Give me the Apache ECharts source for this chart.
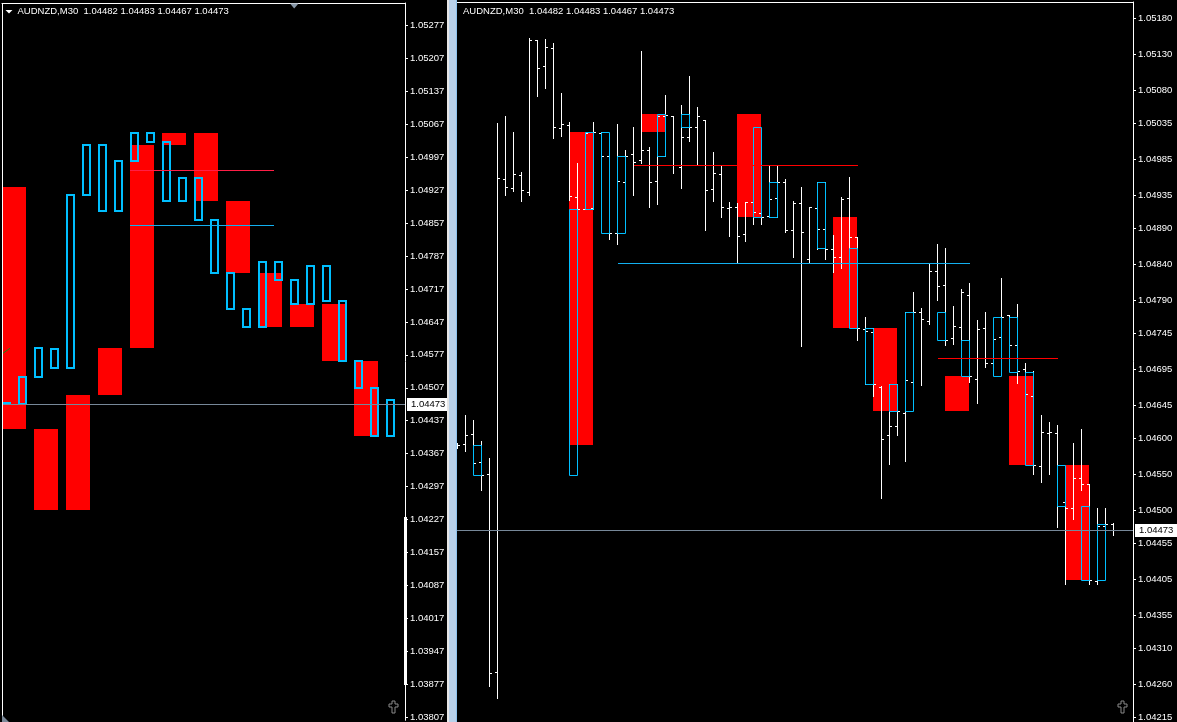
<!DOCTYPE html>
<html><head><meta charset="utf-8">
<script src="https://cdn.jsdelivr.net/npm/echarts@6/dist/echarts.min.js"></script>
<style>html,body{margin:0;padding:0;background:#000;overflow:hidden}#c{width:1177px;height:722px}</style>
</head><body><div id="c"></div><script>
// ---------------- DATA ----------------
const symbolName = 'AUDNZD,M30';
const lastQuote = [1.04482, 1.04483, 1.04467, 1.04473];
const currentPrice = 1.04473;

const leftTickValues = [1.05277, 1.05207, 1.05137, 1.05067, 1.04997, 1.04927, 1.04857, 1.04787, 1.04717, 1.04647, 1.04577, 1.04507, 1.04437, 1.04367, 1.04297, 1.04227, 1.04157, 1.04087, 1.04017, 1.03947, 1.03877, 1.03807];
const rightTickValues = [1.05180, 1.05130, 1.05080, 1.05035, 1.04985, 1.04935, 1.04890, 1.04840, 1.04790, 1.04745, 1.04695, 1.04645, 1.04600, 1.04550, 1.04500, 1.04455, 1.04405, 1.04355, 1.04310, 1.04260, 1.04215];

// right panel OHLC bars (index 0..82)
const barOpen = [1.04588,1.04592,1.04606,1.04567,1.04550,1.04277,1.04958,1.04945,1.04963,1.04940,
1.05150,1.05114,1.05139,1.05028,1.05032,1.04933,1.04916,1.04918,1.05021,1.04990,
1.04883,1.04954,1.04992,1.04984,1.04998,1.04955,1.05045,1.05045,1.04975,1.05016,
1.05030,1.05039,1.04944,1.04965,1.04918,1.04920,1.04882,1.04926,1.04911,1.04907,
1.04932,1.04954,1.04887,1.04925,1.04847,1.04918,1.04889,1.04862,1.04851,1.04932,
1.04878,1.04751,1.04747,1.04671,1.04604,1.04617,1.04635,1.04677,1.04775,1.04762,
1.04831,1.04811,1.04738,1.04753,1.04798,1.04682,1.04752,1.04704,1.04740,1.04770,
1.04729,1.04695,1.04658,1.04562,1.04607,1.04607,1.04512,1.04504,1.04545,1.04537,
1.04403,1.04479,1.04482];
const barHigh = [1.04593,1.04632,1.04625,1.04596,1.04573,1.05035,1.05045,1.05023,1.04968,1.05153,
1.05150,1.05151,1.05146,1.05077,1.05037,1.04980,1.05021,1.05037,1.05023,1.04990,
1.05034,1.04998,1.05030,1.05135,1.05002,1.05047,1.05074,1.05045,1.05060,1.05100,
1.05057,1.05039,1.04995,1.04976,1.04926,1.04925,1.04926,1.04929,1.04922,1.04977,
1.04976,1.04958,1.04927,1.04947,1.04920,1.04954,1.04954,1.04881,1.04933,1.04961,
1.04878,1.04768,1.04752,1.04672,1.04675,1.04675,1.04775,1.04802,1.04780,1.04840,
1.04868,1.04863,1.04783,1.04806,1.04815,1.04763,1.04775,1.04766,1.04821,1.04770,
1.04786,1.04704,1.04693,1.04632,1.04622,1.04618,1.04515,1.04593,1.04613,1.04537,
1.04504,1.04504,1.04483];
const barLow = [1.04586,1.04582,1.04556,1.04529,1.04258,1.04241,1.04936,1.04942,1.04928,1.04936,
1.05073,1.05084,1.05015,1.05017,1.04929,1.04916,1.04916,1.04916,1.04990,1.04875,
1.04868,1.04950,1.04936,1.04980,1.04920,1.04924,1.04990,1.04967,1.04946,1.05011,
1.04979,1.04888,1.04927,1.04905,1.04880,1.04844,1.04873,1.04896,1.04896,1.04905,
1.04905,1.04885,1.04851,1.04727,1.04843,1.04862,1.04848,1.04830,1.04835,1.04860,
1.04735,1.04675,1.04658,1.04517,1.04565,1.04605,1.04569,1.04667,1.04674,1.04758,
1.04791,1.04729,1.04730,1.04736,1.04678,1.04649,1.04698,1.04688,1.04694,1.04693,
1.04676,1.04661,1.04550,1.04540,1.04550,1.04478,1.04398,1.04489,1.04529,1.04398,
1.04399,1.04460,1.04467];
const barClose = [1.04590,1.04604,1.04566,1.04549,1.04276,1.04959,1.04947,1.04965,1.04943,1.05150,
1.05112,1.05141,1.05030,1.05034,1.04934,1.04916,1.05021,1.05023,1.04990,1.04883,
1.04955,1.04990,1.04981,1.04998,1.04954,1.05045,1.05047,1.04977,1.05016,1.05030,
1.05045,1.04943,1.04967,1.04919,1.04919,1.04880,1.04926,1.04912,1.04905,1.04930,
1.04954,1.04887,1.04925,1.04885,1.04920,1.04889,1.04862,1.04851,1.04930,1.04878,
1.04752,1.04748,1.04675,1.04599,1.04617,1.04637,1.04680,1.04775,1.04764,1.04831,
1.04810,1.04735,1.04755,1.04802,1.04686,1.04751,1.04704,1.04737,1.04767,1.04729,
1.04693,1.04661,1.04563,1.04608,1.04608,1.04506,1.04504,1.04545,1.04537,1.04404,
1.04479,1.04481,1.04473];

// hollow (blue) boxes, shared by both panels
const boxTop = [1.04474,1.04529,1.04591,1.04590,1.04916,1.05023,1.05023,1.04990,1.05048,1.05048,
1.05030,1.04954,1.04954,1.04863,1.04752,1.04675,1.04775,1.04775,1.04736,1.04767,
1.04767,1.04692,1.04563,1.04506,1.04481];
const boxBottom = [1.04472,1.04472,1.04529,1.04549,1.04549,1.04916,1.04883,1.04883,1.04990,1.05030,
1.04905,1.04905,1.04863,1.04752,1.04675,1.04637,1.04637,1.04736,1.04686,1.04686,
1.04692,1.04563,1.04506,1.04404,1.04404];
const boxSlotLeft = [0,1,2,3,4,5,6,7,8,9,10,11,12,13,14,15,16,17,18,19,20,21,22,23,24];
const boxBarRight = [null,null,null,2,14,16,18,20,25,28,37,39,45,49,51,54,56,60,63,67,69,71,75,78,80];

// filled (red) boxes, shared by both panels
const redTop = [1.04933,1.04419,1.04491,1.04591,1.05023,1.05048,1.05048,1.04905,1.04752,1.04686,1.04686,1.04563];
const redBottom = [1.04419,1.04248,1.04248,1.04491,1.04591,1.05023,1.04905,1.04752,1.04637,1.04637,1.04563,1.04404];
const redSlotLeft = [0,2,4,6,8,10,12,14,16,18,20,22];
const redBarRight = [null,null,null,null,14,23,35,47,52,61,69,76];

// horizontal level lines
const leftLevelFrom = [8, 8];
const leftLevelTo = [17, 17];
const leftLevelPrice = [1.04970, 1.04854];
const rightLevelFrom = [22, 20, 60];
const rightLevelTo = [50, 64, 75];
const rightLevelPrice = [1.04978, 1.04842, 1.04711];
// short green indicator stub at left edge
const greenStubX = [0, 0.5];
const greenStubY = [1.04579, 1.04591];

// ---------------- STYLE / LAYOUT ----------------
const FONT = '"Liberation Sans", Arial, sans-serif';
const LX = [0, 403 / 16];                 // left x extent (slot units, 16px)
const RX = [-0.0625, -0.0625 + 676 / 8];  // right x extent (bar units, 8px)
const LY = [1.03800, 1.0532515];
const RY = [1.042085, 1.052025];
const leftLevelColors = ['#ff1e46', '#12b0f0'];
const rightLevelColors = ['#ff0000', '#12b0f0', '#ff0000'];

const chart = echarts.init(document.getElementById('c'), null, {renderer: 'canvas'});

function blueBoxRender(widthUnits, lw, offset) {
  return function (params, api) {
    const x0 = api.value(0);
    const a = api.coord([x0, api.value(1)]);
    const b = api.coord([x0 + widthUnits, api.value(2)]);
    let x1, x2, y1, y2;
    if (lw === 2) {
      x1 = Math.round(a[0]) + offset; x2 = Math.round(b[0]);
      y1 = Math.round(a[1]); y2 = Math.round(b[1]);
    } else {
      x1 = Math.floor(a[0]) + 0.5; x2 = Math.floor(b[0]) + 0.5;
      y1 = Math.round(a[1]) + 0.5; y2 = Math.round(b[1]) + 0.5;
    }
    return {type: 'rect', shape: {x: x1, y: y1, width: x2 - x1, height: Math.max(0, y2 - y1)},
      style: {fill: null, stroke: '#00bfff', lineWidth: lw}};
  };
}
function redBoxRender(widthUnits, shift) {
  return function (params, api) {
    const x0 = api.value(0);
    const a = api.coord([x0, api.value(1)]);
    const b = api.coord([x0 + widthUnits, api.value(2)]);
    const x1 = Math.floor(a[0] + shift), x2 = Math.floor(b[0] + shift);
    const y1 = Math.round(a[1]), y2 = Math.round(b[1]);
    return {type: 'rect', shape: {x: x1, y: y1, width: x2 - x1, height: y2 - y1},
      style: {fill: '#ff0000', stroke: null}};
  };
}
function hlineRender(color) {
  return function (params, api) {
    const a = api.coord([api.value(0), api.value(2)]);
    const b = api.coord([api.value(1), api.value(2)]);
    const x1 = Math.round(a[0]), x2 = Math.round(b[0]);
    return {type: 'rect', shape: {x: x1, y: Math.round(a[1]), width: x2 - x1, height: 1},
      style: {fill: color, stroke: null, opacity: 1}};
  };
}
function ohlcRender(params, api) {
  const k = api.value(0);
  const o = api.coord([k, api.value(1)]), h = api.coord([k, api.value(2)]);
  const l = api.coord([k, api.value(3)]), c = api.coord([k, api.value(4)]);
  const x = Math.floor(o[0]);
  const yo = Math.round(o[1]), yc = Math.round(c[1]);
  const yh = Math.round(h[1]), yl = Math.round(l[1]);
  const st = {fill: '#ffffff', stroke: null};
  return {type: 'group', children: [
    {type: 'rect', shape: {x: x, y: yh, width: 1, height: yl - yh + 1}, style: st},
    {type: 'rect', shape: {x: x - 2, y: yo, width: 2, height: 1}, style: st},
    {type: 'rect', shape: {x: x + 1, y: yc, width: 2, height: 1}, style: st}
  ]};
}
function priceLabelRender(params, api) {
  const p = api.coord([api.value(0), api.value(1)]);
  const y = Math.round(p[1]);
  return {type: 'group', children: [
    {type: 'rect', shape: {x: Math.round(p[0]) + 2, y: y - 6, width: 42, height: 13}, style: {fill: '#ffffff'}},
    {type: 'text', x: Math.round(p[0]) + 6, y: y + 0.5,
      style: {text: api.value(1).toFixed(5), fill: '#000000', font: '9.5px ' + FONT, align: 'left', verticalAlign: 'middle'}}
  ]};
}

function yAxisMain(grid, range, ticks) {
  return {type: 'value', gridIndex: grid, position: 'right', min: range[0], max: range[1], scale: true,
    axisLine: {show: true, onZero: false, lineStyle: {color: '#ffffff', width: 1}},
    axisTick: {show: true, customValues: ticks, length: 3, lineStyle: {color: '#ffffff'}},
    axisLabel: {show: true, customValues: ticks, color: '#ffffff', fontSize: 9.5, fontFamily: FONT, margin: 5,
      formatter: v => Number(v).toFixed(5)},
    splitLine: {show: false}, splitArea: {show: false}, minorTick: {show: false}};
}
function xAxisTop(grid, range) {
  return {type: 'value', gridIndex: grid, position: 'top', min: range[0], max: range[1],
    axisLine: {show: true, onZero: false, lineStyle: {color: '#ffffff', width: 1}},
    axisTick: {show: false}, axisLabel: {show: false}, splitLine: {show: false}, splitArea: {show: false}};
}

const leftBoxes = boxTop.map((t, i) => [boxSlotLeft[i], t, boxBottom[i]]);
const rightBoxes = boxTop.map((t, i) => [boxBarRight[i], t, boxBottom[i]]).filter(d => d[0] !== null);
const leftReds = redTop.map((t, i) => [redSlotLeft[i], t, redBottom[i]]);
const rightReds = redTop.map((t, i) => [redBarRight[i], t, redBottom[i]]).filter(d => d[0] !== null);
const bars = barOpen.map((o, i) => [i, o, barHigh[i], barLow[i], barClose[i]]);
const titleText = symbolName + '  ' + lastQuote.map(v => v.toFixed(5)).join(' ');

function levelSeries(xi, from, to, price, colors, prefix) {
  return price.map((p, i) => ({type: 'custom', name: prefix + i, xAxisIndex: xi, yAxisIndex: xi, z: 4,
    data: [[from[i], to[i], p]], renderItem: hlineRender(colors[i])}));
}

function crossIcon(cx, cy) {
  const pts = [[cx-1.5,cy-5.5],[cx+1.5,cy-5.5],[cx+1.5,cy-2.5],[cx+4.5,cy-2.5],[cx+4.5,cy+0.5],[cx+1.5,cy+0.5],
    [cx+1.5,cy+6.5],[cx-1.5,cy+6.5],[cx-1.5,cy+0.5],[cx-4.5,cy+0.5],[cx-4.5,cy-2.5],[cx-1.5,cy-2.5]];
  return {type: 'polygon', shape: {points: pts}, style: {fill: '#000', stroke: '#8a8a8a', lineWidth: 1}, z: 100};
}

chart.setOption({
  animation: false,
  backgroundColor: '#000000',
  grid: [
    {left: 2, top: 3, width: 403, height: 719, containLabel: false},
    {left: 457, top: 2, width: 676, height: 720, containLabel: false}
  ],
  xAxis: [xAxisTop(0, LX), xAxisTop(1, RX)],
  yAxis: [yAxisMain(0, LY, leftTickValues), yAxisMain(1, RY, rightTickValues)],
  graphic: [
    {type: 'rect', shape: {x: 2, y: 3, width: 1, height: 719}, style: {fill: '#ffffff'}, z: 50},
    {type: 'rect', shape: {x: 456, y: 0, width: 1, height: 722}, style: {fill: '#8ec3ee'}, z: 50},
    {type: 'rect', shape: {x: 447, y: 0, width: 2, height: 722}, style: {fill: '#e6e6e6'}, z: 50},
    {type: 'rect', shape: {x: 449, y: 0, width: 7, height: 722}, style: {fill: '#b9d1ea'}, z: 50},
    {type: 'rect', shape: {x: 404, y: 517, width: 3, height: 168}, style: {fill: '#ffffff'}, z: 50},
    {type: 'polygon', shape: {points: [[5.5, 10], [12.5, 10], [9, 13.5]]}, style: {fill: '#ffffff'}, z: 50},
    {type: 'polygon', shape: {points: [[290, 3.5], [298.5, 3.5], [294.2, 8.5]]}, style: {fill: '#8797a8'}, z: 50},
    {type: 'polygon', shape: {points: [[2, 715], [2, 722], [9, 722]]}, style: {fill: '#7a8898'}, z: 50},
    {type: 'text', x: 17.5, y: 11.5, style: {text: titleText, fill: '#ffffff', font: '9.5px ' + FONT, verticalAlign: 'middle'}, z: 60},
    {type: 'text', x: 463, y: 11.5, style: {text: titleText, fill: '#ffffff', font: '9.5px ' + FONT, verticalAlign: 'middle'}, z: 60},
    crossIcon(393.5, 706.5),
    crossIcon(1122.5, 706.5)
  ],
  series: [
    // ----- left panel -----
    {type: 'custom', name: 'leftRed', xAxisIndex: 0, yAxisIndex: 0, z: 1, data: leftReds, renderItem: redBoxRender(1.5, 0)},
    {type: 'custom', name: 'leftBlue', xAxisIndex: 0, yAxisIndex: 0, z: 3, data: leftBoxes, renderItem: blueBoxRender(0.5, 2, 1)},
    ...levelSeries(0, leftLevelFrom, leftLevelTo, leftLevelPrice, leftLevelColors, 'leftLevel'),
    {type: 'line', name: 'greenStub', xAxisIndex: 0, yAxisIndex: 0, z: 4, symbol: 'none', data: greenStubX.map((x, i) => [x, greenStubY[i]]),
      lineStyle: {color: '#178a17', width: 1}},
    {type: 'custom', name: 'leftPrice', xAxisIndex: 0, yAxisIndex: 0, z: 5, data: [[LX[0], LX[1], currentPrice]], renderItem: hlineRender('#778899')},
    {type: 'custom', name: 'leftPriceLabel', xAxisIndex: 0, yAxisIndex: 0, z: 20, clip: false, data: [[LX[1], currentPrice]], renderItem: priceLabelRender},
    // ----- right panel -----
    {type: 'custom', name: 'rightRed', xAxisIndex: 1, yAxisIndex: 1, z: 1, data: rightReds, renderItem: redBoxRender(3, -0.5)},
    {type: 'custom', name: 'bars', xAxisIndex: 1, yAxisIndex: 1, z: 2, data: bars, renderItem: ohlcRender},
    {type: 'custom', name: 'rightBlue', xAxisIndex: 1, yAxisIndex: 1, z: 3, data: rightBoxes, renderItem: blueBoxRender(1, 1, 0)},
    ...levelSeries(1, rightLevelFrom, rightLevelTo, rightLevelPrice, rightLevelColors, 'rightLevel'),
    {type: 'custom', name: 'rightPrice', xAxisIndex: 1, yAxisIndex: 1, z: 5, data: [[RX[0], RX[1], currentPrice]], renderItem: hlineRender('#778899')},
    {type: 'custom', name: 'rightPriceLabel', xAxisIndex: 1, yAxisIndex: 1, z: 20, clip: false, data: [[RX[1], currentPrice]], renderItem: priceLabelRender}
  ]
});
</script></body></html>
